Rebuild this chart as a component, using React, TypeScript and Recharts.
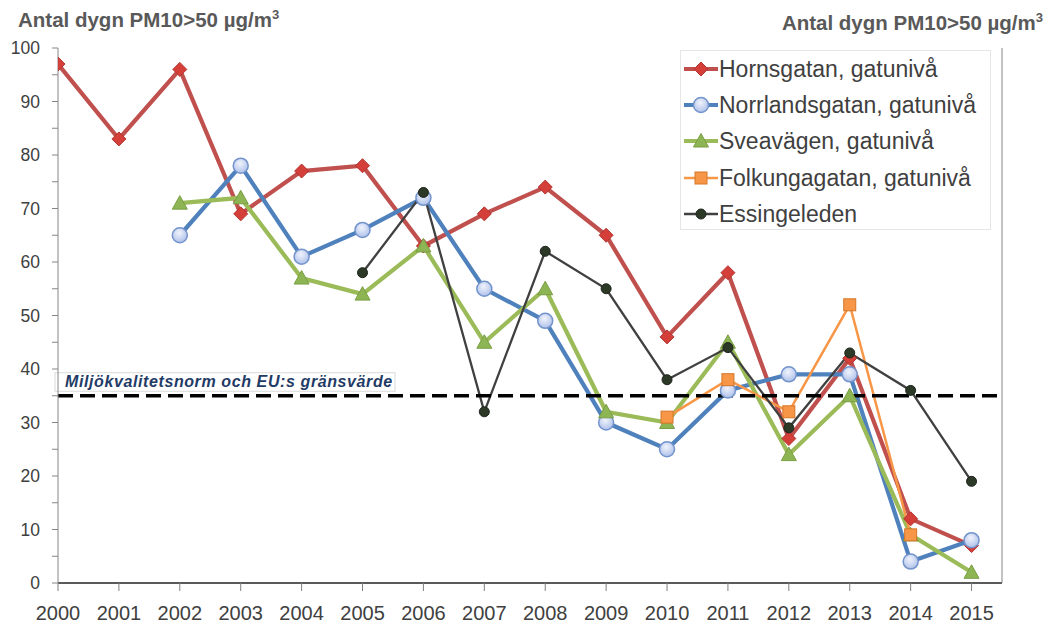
import React from 'react';
import {
  LineChart, Line, XAxis, YAxis, CartesianGrid, ReferenceLine, Legend,
} from 'recharts';

const years = [2000, 2001, 2002, 2003, 2004, 2005, 2006, 2007, 2008, 2009, 2010, 2011, 2012, 2013, 2014, 2015];
const hornsgatan = [97, 83, 96, 69, 77, 78, 63, 69, 74, 65, 46, 58, 27, 42, 12, 7];
const norrlandsgatan = [null, null, 65, 78, 61, 66, 72, 55, 49, 30, 25, 36, 39, 39, 4, 8];
const sveavagen = [null, null, 71, 72, 57, 54, 63, 45, 55, 32, 30, 45, 24, 35, 9, 2];
const folkungagatan = [null, null, null, null, null, null, null, null, null, null, 31, 38, 32, 52, 9, null];
const essingeleden = [null, null, null, null, null, 58, 73, 32, 62, 55, 38, 44, 29, 43, 36, 19];
const yTicks = [0, 5, 10, 15, 20, 25, 30, 35, 40, 45, 50, 55, 60, 65, 70, 75, 80, 85, 90, 95, 100];
const gridValues = [0, 10, 20, 30, 40, 50, 60, 70, 80, 90, 100];
const limitValue = 35;
const limitLabel = 'Miljökvalitetsnorm och EU:s gränsvärde';
const axisTitle = 'Antal dygn PM10>50 µg/m';

const FONT = '"Liberation Sans", Arial, sans-serif';

type Shape = 'diamond' | 'circle' | 'triangle' | 'square' | 'dot';

const seriesDefs = [
  { key: 'horns', name: 'Hornsgatan, gatunivå', values: hornsgatan, color: '#C0504D', width: 4.2, shape: 'diamond' as Shape },
  { key: 'norr', name: 'Norrlandsgatan, gatunivå', values: norrlandsgatan, color: '#4F81BD', width: 4.2, shape: 'circle' as Shape },
  { key: 'svea', name: 'Sveavägen, gatunivå', values: sveavagen, color: '#9BBB59', width: 4.2, shape: 'triangle' as Shape },
  { key: 'folk', name: 'Folkungagatan, gatunivå', values: folkungagatan, color: '#F79646', width: 2.5, shape: 'square' as Shape },
  { key: 'essi', name: 'Essingeleden', values: essingeleden, color: '#404040', width: 2.3, shape: 'dot' as Shape },
];

const data = years.map((y, i) => {
  const row: any = { year: y };
  seriesDefs.forEach((s) => { row[s.key] = s.values[i]; });
  return row;
});

function Marker({ shape, cx, cy }: { shape: Shape; cx: number; cy: number }) {
  switch (shape) {
    case 'diamond':
      return <polygon points={`${cx},${cy - 7} ${cx + 7},${cy} ${cx},${cy + 7} ${cx - 7},${cy}`} fill="#D43F3A" stroke="#B33430" strokeWidth={1} />;
    case 'circle':
      return <circle cx={cx} cy={cy} r={7.5} fill="url(#blueGrad)" stroke="#7393CC" strokeWidth={1.5} />;
    case 'triangle':
      return <polygon points={`${cx},${cy - 7.5} ${cx + 7.5},${cy + 6} ${cx - 7.5},${cy + 6}`} fill="#8DB554" stroke="#7A9E44" strokeWidth={1} />;
    case 'square':
      return <rect x={cx - 6} y={cy - 6} width={12} height={12} fill="#F79646" stroke="#D47628" strokeWidth={1} />;
    default:
      return <circle cx={cx} cy={cy} r={5} fill="#2C3927" stroke="#1E241C" strokeWidth={1} />;
  }
}

const makeDot = (shape: Shape) => (props: any) => {
  const { cx, cy, index, value } = props;
  if (cx == null || cy == null || value == null || (Array.isArray(value) && value[1] == null)) {
    return <g key={`d-${shape}-${index}`} />;
  }
  return <g key={`d-${shape}-${index}`}><Marker shape={shape} cx={cx} cy={cy} /></g>;
};

const LimitLabel = (props: any) => {
  const vb = props.viewBox || {};
  const x = vb.x ?? 58;
  const y = vb.y ?? 396;
  return (
    <g>
      <rect x={x - 3} y={y - 23} width={340} height={18.5} fill="#FFFFFF" stroke="#D9D9D9" strokeWidth={1} />
      <text x={x + 7} y={y - 9} fill="#1F3B66" fontFamily={FONT} fontSize={16} fontStyle="italic" fontWeight="bold" letterSpacing={0.6}>
        {limitLabel}
      </text>
    </g>
  );
};

const renderLegend = () => (
  <div style={{ width: 311, height: 180, background: '#FFFFFF', border: '1px solid #E6E6E6', boxSizing: 'border-box', position: 'relative', fontFamily: FONT }}>
    {seriesDefs.map((s, i) => (
      <div key={s.key} style={{ position: 'absolute', left: 3, top: 17.5 + i * 36.4 - 16, height: 32, display: 'flex', alignItems: 'center', whiteSpace: 'nowrap' }}>
        <svg width={34} height={20} style={{ display: 'block' }}>
          <line x1={0} y1={10} x2={34} y2={10} stroke={s.color} strokeWidth={s.width} />
          <Marker shape={s.shape} cx={17} cy={10} />
        </svg>
        <span style={{ fontSize: 23, color: '#404040', marginLeft: 1, lineHeight: '32px' }}>{s.name}</span>
      </div>
    ))}
  </div>
);

const titleStyle: React.CSSProperties = { position: 'absolute', fontSize: 20.5, fontWeight: 'bold', color: '#595959', lineHeight: 1, whiteSpace: 'nowrap' };
const supStyle: React.CSSProperties = { fontSize: 13, verticalAlign: 'top', position: 'relative', top: -2 };

export default function App() {
  return (
    <div style={{ position: 'absolute', left: 0, top: 0, width: 1055, height: 626, background: '#FFFFFF', fontFamily: FONT }}>
      <div style={{ ...titleStyle, left: 18, top: 10 }}>
        {axisTitle}<sup style={supStyle}>3</sup>
      </div>
      <div style={{ ...titleStyle, right: 12, top: 13 }}>
        {axisTitle}<sup style={supStyle}>3</sup>
      </div>
      <LineChart width={1055} height={626} data={data} margin={{ top: 48, right: 0, bottom: 0, left: 0 }}>
        <defs>
          <radialGradient id="blueGrad" cx="45%" cy="35%" r="70%">
            <stop offset="0%" stopColor="#F0F3FC" />
            <stop offset="100%" stopColor="#A9BDE8" />
          </radialGradient>
        </defs>
        <CartesianGrid vertical={false} stroke="#C8C8C8" horizontalValues={gridValues} />
        <XAxis
          dataKey="year"
          type="number"
          domain={[2000, 2015.5]}
          ticks={years}
          interval={0}
          height={43}
          tickSize={8}
          tickMargin={15}
          axisLine={{ stroke: '#5A5A5A', strokeWidth: 2 }}
          tickLine={{ stroke: '#7F7F7F' }}
          tick={{ fill: '#404040', fontSize: 20, fontFamily: FONT }}
          allowDataOverflow
        />
        <YAxis
          yAxisId="left"
          domain={[0, 100]}
          ticks={yTicks}
          interval={0}
          width={58}
          tickSize={6}
          tickMargin={12}
          tickFormatter={(v: number) => (v % 10 === 0 ? String(v) : '')}
          axisLine={{ stroke: '#868686' }}
          tickLine={{ stroke: '#868686' }}
          tick={{ fill: '#404040', fontSize: 17.5, fontFamily: FONT }}
        />
        <YAxis
          yAxisId="right"
          orientation="right"
          domain={[0, 100]}
          ticks={yTicks}
          interval={0}
          width={53}
          tickSize={6}
          tickMargin={13}
          tickFormatter={(v: number) => (v % 10 === 0 ? String(v) : '')}
          axisLine={{ stroke: '#868686' }}
          tickLine={{ stroke: '#868686' }}
          tick={{ fill: '#404040', fontSize: 17.5, fontFamily: FONT }}
        />
        {seriesDefs.map((s) => (
          <Line
            key={s.key}
            yAxisId="left"
            type="linear"
            dataKey={s.key}
            name={s.name}
            stroke={s.color}
            strokeWidth={s.width}
            dot={makeDot(s.shape)}
            activeDot={false}
            isAnimationActive={false}
            connectNulls={false}
          />
        ))}
        <ReferenceLine
          yAxisId="left"
          y={limitValue}
          stroke="#000000"
          strokeWidth={3.5}
          strokeDasharray="15 7"
          label={(p: any) => <LimitLabel {...p} />}
        />
        <Legend
          layout="vertical"
          align="center"
          verticalAlign="middle"
          content={renderLegend}
          wrapperStyle={{ position: 'absolute', left: 680, top: 50, width: 311, height: 180, margin: 0 }}
        />
      </LineChart>
    </div>
  );
}
